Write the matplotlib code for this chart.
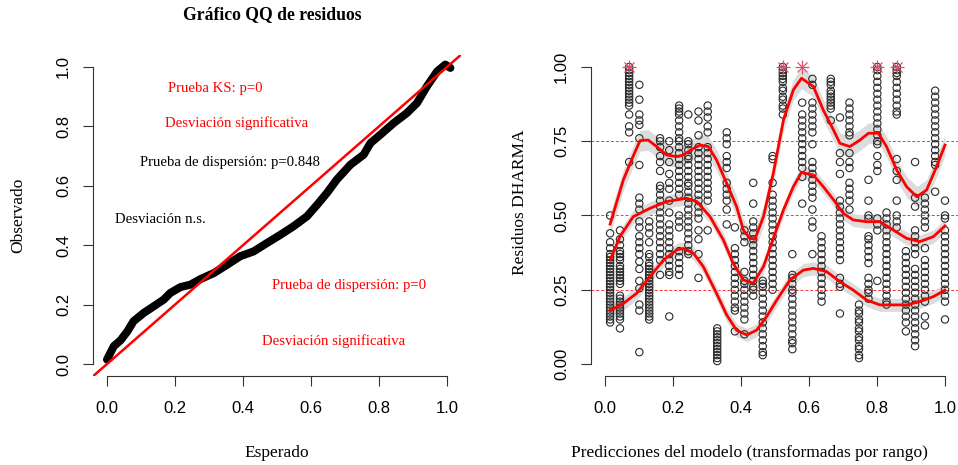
import matplotlib.pyplot as plt
import numpy as np

plt.rcParams['font.family'] = ['Liberation Serif', 'DejaVu Serif']

# --- panel izquierdo: QQ de residuos ---
qq_expected = [0.0, 0.02, 0.04, 0.06, 0.078, 0.108, 0.137, 0.167, 0.186, 0.216,
               0.245, 0.275, 0.314, 0.353, 0.392, 0.431, 0.47, 0.51, 0.549, 0.588,
               0.618, 0.647, 0.676, 0.716, 0.755, 0.775, 0.804, 0.843, 0.882, 0.912,
               0.941, 0.971, 0.995, 1.01]
qq_observed = [0.015, 0.06, 0.08, 0.11, 0.144, 0.172, 0.194, 0.217, 0.239, 0.259,
               0.267, 0.286, 0.306, 0.334, 0.363, 0.379, 0.407, 0.435, 0.464, 0.497,
               0.536, 0.576, 0.621, 0.671, 0.705, 0.744, 0.772, 0.811, 0.845, 0.879,
               0.935, 0.985, 1.008, 0.997]

# --- panel derecho: residuos vs predicciones ---
pred_x = [0.015, 0.044, 0.071, 0.101, 0.130, 0.162, 0.189, 0.218, 0.245, 0.275,
          0.302, 0.330, 0.358, 0.382, 0.410, 0.436, 0.464, 0.493, 0.523, 0.551,
          0.580, 0.610, 0.637, 0.664, 0.691, 0.719, 0.747, 0.775, 0.801, 0.828,
          0.858, 0.885, 0.912, 0.941, 0.971, 1.0]
resid_cols = [
    [0.50, 0.44, 0.41, 0.39, 0.37, 0.36, 0.35, 0.34, 0.33, 0.32, 0.31, 0.30, 0.29, 0.28,
     0.27, 0.26, 0.25, 0.24, 0.23, 0.22, 0.21, 0.20, 0.19, 0.18, 0.17, 0.16, 0.15, 0.14],
    [0.45, 0.42, 0.40, 0.38, 0.37, 0.36, 0.35, 0.33, 0.32, 0.31, 0.30, 0.29, 0.28, 0.27,
     0.23, 0.22, 0.21, 0.20, 0.19, 0.18, 0.17, 0.16, 0.15, 0.12],
    [1.0, 0.99, 0.98, 0.97, 0.96, 0.95, 0.94, 0.93, 0.92, 0.91, 0.90, 0.89, 0.88, 0.87,
     0.84, 0.80, 0.78, 0.68],
    [0.94, 0.89, 0.84, 0.82, 0.805, 0.76, 0.67, 0.56, 0.54, 0.52, 0.48, 0.46, 0.43, 0.41,
     0.39, 0.37, 0.345, 0.32, 0.28, 0.255, 0.20, 0.18, 0.04],
    [0.48, 0.46, 0.44, 0.41, 0.37, 0.36, 0.34, 0.33, 0.32, 0.31, 0.30, 0.29, 0.28, 0.27,
     0.26, 0.25, 0.24, 0.23, 0.22, 0.21, 0.20, 0.19, 0.18, 0.17, 0.16, 0.15],
    [0.76, 0.75, 0.73, 0.70, 0.68, 0.65, 0.60, 0.59, 0.57, 0.55, 0.53, 0.51, 0.49, 0.47,
     0.45, 0.43, 0.41, 0.39, 0.37, 0.35, 0.30],
    [0.75, 0.72, 0.68, 0.64, 0.61, 0.59, 0.55, 0.51, 0.47, 0.45, 0.43, 0.41, 0.39, 0.37,
     0.35, 0.33, 0.31, 0.30, 0.16],
    [0.87, 0.86, 0.85, 0.84, 0.82, 0.80, 0.78, 0.76, 0.75, 0.73, 0.71, 0.69, 0.67, 0.65,
     0.63, 0.61, 0.59, 0.57, 0.50, 0.48, 0.46, 0.38, 0.36, 0.34, 0.32, 0.30],
    [0.84, 0.75, 0.74, 0.72, 0.70, 0.69, 0.67, 0.65, 0.63, 0.61, 0.60, 0.58, 0.56, 0.54,
     0.52, 0.50, 0.48, 0.46, 0.44, 0.42, 0.40, 0.38, 0.37],
    [0.85, 0.82, 0.77, 0.73, 0.71, 0.69, 0.67, 0.65, 0.63, 0.61, 0.59, 0.57, 0.55, 0.53,
     0.51, 0.49, 0.45, 0.42, 0.37, 0.29],
    [0.87, 0.85, 0.83, 0.80, 0.78, 0.73, 0.71, 0.69, 0.67, 0.65, 0.63, 0.61, 0.59, 0.57,
     0.55, 0.45],
    [0.12, 0.11, 0.10, 0.09, 0.08, 0.07, 0.06, 0.05, 0.04, 0.03, 0.02, 0.01],
    [0.78, 0.76, 0.74, 0.70, 0.68, 0.66, 0.61, 0.59, 0.57, 0.55, 0.52, 0.47],
    [0.46, 0.39, 0.37, 0.35, 0.33, 0.31, 0.29, 0.27, 0.25, 0.23, 0.21, 0.19, 0.18, 0.11],
    [0.45, 0.43, 0.41, 0.31, 0.28, 0.27, 0.25, 0.23, 0.21, 0.19, 0.17, 0.15, 0.10],
    [0.61, 0.54, 0.48, 0.46, 0.44, 0.42, 0.40, 0.38, 0.36, 0.34, 0.32, 0.30, 0.28, 0.26,
     0.25, 0.23],
    [0.28, 0.27, 0.26, 0.24, 0.22, 0.20, 0.18, 0.16, 0.14, 0.12, 0.10, 0.08, 0.06, 0.04, 0.03],
    [0.70, 0.69, 0.61, 0.57, 0.55, 0.53, 0.51, 0.49, 0.47, 0.45, 0.43, 0.41, 0.39, 0.37,
     0.35, 0.33, 0.31, 0.29, 0.27, 0.25],
    [1.0, 0.99, 0.98, 0.97, 0.96, 0.95, 0.93, 0.92, 0.90, 0.89, 0.87, 0.86, 0.84],
    [0.37, 0.30, 0.29, 0.27, 0.25, 0.24, 0.22, 0.20, 0.18, 0.16, 0.14, 0.12, 0.10, 0.08,
     0.07, 0.05],
    [0.88, 0.84, 0.82, 0.80, 0.78, 0.76, 0.74, 0.72, 0.70, 0.68, 0.66, 0.63, 0.54],
    [0.96, 0.94, 0.88, 0.86, 0.84, 0.82, 0.80, 0.78, 0.74, 0.68, 0.66, 0.64, 0.62, 0.60,
     0.58, 0.56, 0.52, 0.48, 0.46, 0.37],
    [0.43, 0.41, 0.39, 0.37, 0.35, 0.33, 0.31, 0.29, 0.27, 0.25, 0.23, 0.21],
    [0.96, 0.95, 0.94, 0.92, 0.91, 0.90, 0.89, 0.88, 0.87, 0.86, 0.82],
    [0.83, 0.71, 0.68, 0.64, 0.55, 0.53, 0.51, 0.49, 0.47, 0.45, 0.43, 0.41, 0.39, 0.37,
     0.35, 0.29, 0.27, 0.26, 0.17],
    [0.88, 0.86, 0.84, 0.82, 0.80, 0.78, 0.77, 0.71, 0.68, 0.66, 0.61, 0.59, 0.57, 0.55, 0.52],
    [0.20, 0.18, 0.17, 0.15, 0.14, 0.12, 0.11, 0.09, 0.08, 0.06, 0.05, 0.03, 0.02],
    [0.62, 0.55, 0.50, 0.49, 0.43, 0.42, 0.40, 0.38, 0.36, 0.34, 0.29, 0.27, 0.25, 0.24, 0.22],
    [1.0, 0.99, 0.97, 0.95, 0.93, 0.91, 0.89, 0.87, 0.85, 0.83, 0.81, 0.79, 0.77, 0.75,
     0.74, 0.70, 0.67, 0.65, 0.49, 0.47, 0.45, 0.28],
    [0.51, 0.49, 0.47, 0.45, 0.43, 0.41, 0.39, 0.37, 0.35, 0.33, 0.31, 0.29, 0.27, 0.25,
     0.23, 0.21, 0.20],
    [1.0, 0.99, 0.98, 0.97, 0.95, 0.93, 0.91, 0.89, 0.87, 0.85, 0.84, 0.69, 0.65, 0.62,
     0.55, 0.50, 0.48, 0.46],
    [0.38, 0.36, 0.34, 0.32, 0.30, 0.28, 0.26, 0.24, 0.22, 0.20, 0.18, 0.16, 0.14, 0.11],
    [0.68, 0.56, 0.53, 0.45, 0.43, 0.41, 0.39, 0.37, 0.32, 0.30, 0.28, 0.26, 0.24, 0.22,
     0.20, 0.18, 0.16, 0.14, 0.12, 0.10, 0.08, 0.06],
    [0.56, 0.54, 0.52, 0.50, 0.48, 0.46, 0.39, 0.35, 0.33, 0.31, 0.29, 0.27, 0.25, 0.23,
     0.21, 0.16, 0.13],
    [0.92, 0.90, 0.88, 0.86, 0.84, 0.82, 0.80, 0.78, 0.76, 0.74, 0.72, 0.70, 0.68, 0.67, 0.58],
    [0.55, 0.50, 0.49, 0.45, 0.43, 0.41, 0.39, 0.37, 0.35, 0.33, 0.31, 0.29, 0.27, 0.25,
     0.23, 0.21, 0.15],
]
outlier_x = [0.071, 0.523, 0.580, 0.801, 0.858]

# curvas de regresión cuantílica (0.75, 0.5, 0.25)
q75_x = [0.015, 0.054, 0.083, 0.103, 0.127, 0.152, 0.181, 0.211, 0.23, 0.26, 0.28, 0.304,
         0.328, 0.358, 0.387, 0.407, 0.426, 0.441, 0.466, 0.495, 0.525, 0.554, 0.578,
         0.613, 0.642, 0.672, 0.691, 0.72, 0.75, 0.775, 0.804, 0.828, 0.858, 0.887,
         0.917, 0.946, 0.975, 1.0]
q75_y = [0.471, 0.62, 0.70, 0.752, 0.754, 0.732, 0.704, 0.698, 0.704, 0.726, 0.737, 0.732,
         0.687, 0.608, 0.53, 0.451, 0.423, 0.42, 0.496, 0.642, 0.822, 0.923, 0.962,
         0.934, 0.855, 0.788, 0.743, 0.732, 0.754, 0.777, 0.777, 0.732, 0.653, 0.597,
         0.563, 0.586, 0.664, 0.737]
q50_x = [0.015, 0.044, 0.083, 0.132, 0.181, 0.24, 0.27, 0.309, 0.348, 0.377, 0.407, 0.436,
         0.466, 0.495, 0.525, 0.554, 0.578, 0.613, 0.642, 0.672, 0.701, 0.73, 0.77, 0.809,
         0.848, 0.887, 0.926, 0.966, 1.0]
q50_y = [0.35, 0.429, 0.496, 0.524, 0.547, 0.558, 0.547, 0.496, 0.418, 0.339, 0.283, 0.272,
         0.328, 0.423, 0.519, 0.597, 0.645, 0.636, 0.597, 0.553, 0.507, 0.485, 0.479, 0.479,
         0.451, 0.423, 0.412, 0.429, 0.465]
q25_x = [0.015, 0.054, 0.093, 0.132, 0.172, 0.211, 0.23, 0.26, 0.289, 0.328, 0.358, 0.387,
         0.417, 0.446, 0.475, 0.505, 0.544, 0.583, 0.613, 0.652, 0.691, 0.73, 0.77, 0.809,
         0.848, 0.887, 0.926, 0.966, 1.0]
q25_y = [0.18, 0.204, 0.238, 0.294, 0.35, 0.384, 0.389, 0.373, 0.328, 0.238, 0.165, 0.114,
         0.098, 0.114, 0.159, 0.215, 0.283, 0.316, 0.322, 0.311, 0.277, 0.249, 0.215, 0.199,
         0.199, 0.199, 0.21, 0.227, 0.249]
band_half = [0.035, 0.022, 0.022]

W, H = 958, 465
fig = plt.figure(figsize=(W / 100, H / 100), dpi=100)
ax1 = fig.add_axes([93.4 / W, 1 - 375.9 / H, 367.2 / W, 320.8 / H])
ax2 = fig.add_axes([591.4 / W, 1 - 375.9 / H, 367.2 / W, 320.8 / H])


def estilo_r(ax, yticks, ylabels):
    ax.set_xlim(-0.04, 1.04)
    ax.set_ylim(-0.04, 1.04)
    for s in ['top', 'right']:
        ax.spines[s].set_visible(False)
    for s in ['left', 'bottom']:
        ax.spines[s].set_linewidth(0.8)
        ax.spines[s].set_color('#333333')
    ax.spines['bottom'].set_bounds(0, 1)
    ax.spines['left'].set_bounds(0, 1)
    ax.set_xticks([0, 0.2, 0.4, 0.6, 0.8, 1.0])
    ax.set_xticklabels(['0.0', '0.2', '0.4', '0.6', '0.8', '1.0'])
    ax.set_yticks(yticks)
    ax.set_yticklabels(ylabels, rotation=90, va='center')
    ax.tick_params(direction='out', length=7, width=0.8, color='#333333', labelsize=12)
    ax.tick_params(axis='x', pad=11)
    ax.tick_params(axis='y', pad=9)
    for lab in ax.get_xticklabels() + ax.get_yticklabels():
        lab.set_fontfamily(['Liberation Sans', 'DejaVu Sans'])
    ax.set_facecolor('none')


# panel QQ
estilo_r(ax1, [0, 0.2, 0.4, 0.6, 0.8, 1.0], ['0.0', '0.2', '0.4', '0.6', '0.8', '1.0'])
ax1.plot(qq_expected, qq_observed, color='black', lw=5.8, solid_capstyle='round', zorder=2)
ax1.axline((0, 0), slope=1, color='red', lw=1.8, zorder=3)
fs = 10.6
ax1.text(0.32, 0.926, 'Prueba KS: p=0', color='red', fontsize=fs, ha='center', va='center')
ax1.text(0.38, 0.81, 'Desviación significativa', color='red', fontsize=fs, ha='center', va='center')
ax1.text(0.362, 0.677, 'Prueba de dispersión: p=0.848', color='black', fontsize=fs,
         ha='center', va='center')
ax1.text(0.156, 0.488, 'Desviación n.s.', color='black', fontsize=fs, ha='center', va='center')
ax1.text(0.712, 0.263, 'Prueba de dispersión: p=0', color='red', fontsize=fs,
         ha='center', va='center')
ax1.text(0.665, 0.077, 'Desviación significativa', color='red', fontsize=fs,
         ha='center', va='center')

fig.text(272.5 / W, 1 - 15 / H, 'Gráfico QQ de residuos', fontsize=12.7, fontweight='bold',
         ha='center', va='center')
fig.text(277 / W, 1 - 453 / H, 'Esperado', fontsize=12.5, ha='center', va='center')
fig.text(18 / W, 1 - 215 / H, 'Observado', fontsize=12.5, ha='center', va='center', rotation=90)

# panel residuos
estilo_r(ax2, [0, 0.25, 0.5, 0.75, 1.0], ['0.00', '0.25', '0.50', '0.75', '1.00'])
for yq in [0.25, 0.5, 0.75]:
    ax2.axhline(yq, color='red', lw=0.7, ls=(0, (3, 2)), alpha=0.8, zorder=1)

for (qx, qy), hw in zip([(q75_x, q75_y), (q50_x, q50_y), (q25_x, q25_y)], band_half):
    qy = np.array(qy)
    ax2.fill_between(qx, qy - hw, qy + hw, color='#dcdcdc', lw=0, zorder=1.5)

for xc, ys in zip(pred_x, resid_cols):
    ax2.scatter([xc] * len(ys), ys, s=28, facecolors='none', edgecolors='#2a2a2a',
                linewidths=0.8, zorder=2)

for (qx, qy) in [(q75_x, q75_y), (q50_x, q50_y), (q25_x, q25_y)]:
    ax2.plot(qx, qy, color='red', lw=2.0, zorder=3)

ax2.plot(outlier_x, [1.0] * len(outlier_x), ls='none', marker='+', ms=10, mew=0.9,
         color='#e0506e', zorder=4)
ax2.plot(outlier_x, [1.0] * len(outlier_x), ls='none', marker='x', ms=7, mew=0.9,
         color='#e0506e', zorder=4)

fig.text(749 / W, 1 - 453 / H, 'Predicciones del modelo (transformadas por rango)',
         fontsize=12.5, ha='center', va='center')
fig.text(520 / W, 1 - 202 / H, 'Residuos DHARMA', fontsize=12.5, ha='center', va='center',
         rotation=90)

fig.savefig('out.png', dpi=100, facecolor='white')
